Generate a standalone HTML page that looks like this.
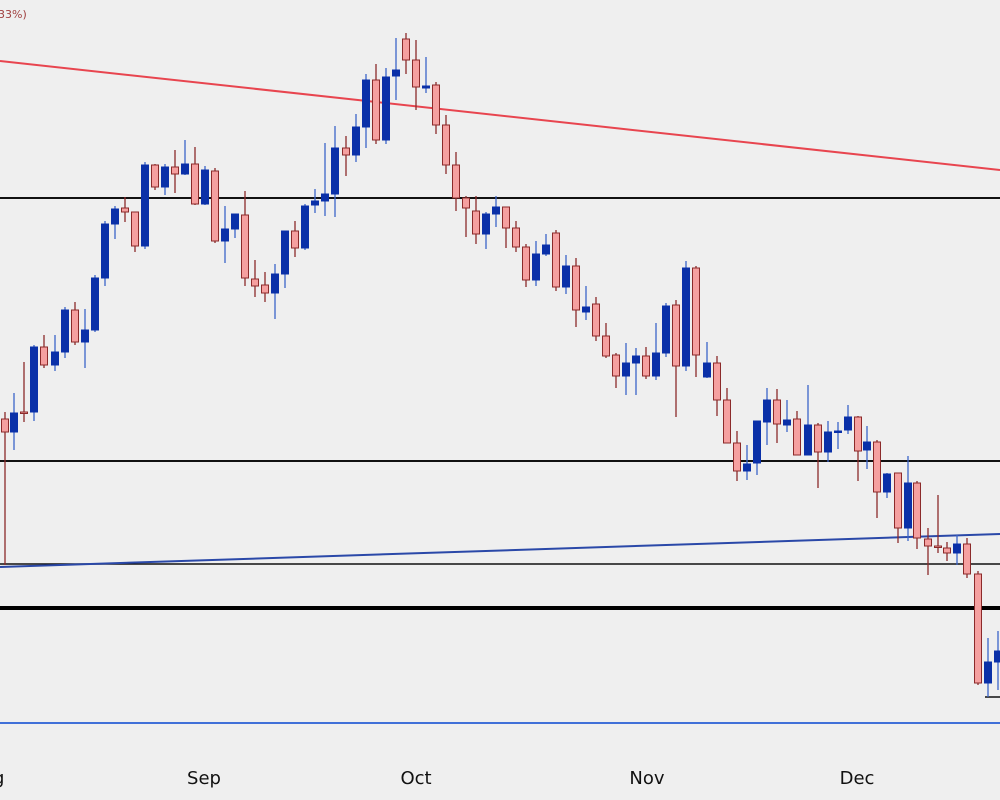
<!DOCTYPE html>
<html><head><meta charset="utf-8"><style>
html,body{margin:0;padding:0;background:#efefef;}
svg{display:block;}
text{font-family:"DejaVu Sans","Liberation Sans",sans-serif;}
</style></head><body>
<svg id="s" width="1000" height="800" viewBox="0 0 1000 800" xmlns="http://www.w3.org/2000/svg">
<rect width="1000" height="800" fill="#efefef"/>
<text x="-2" y="18" font-size="11" fill="#a04040">33%)</text>
<line x1="0" y1="61" x2="1000" y2="170" stroke="#e8454f" stroke-width="2"/>
<line x1="0" y1="198" x2="1000" y2="198" stroke="#111" stroke-width="2"/>
<line x1="0" y1="461" x2="1000" y2="461" stroke="#111" stroke-width="2"/>
<line x1="0" y1="564" x2="1000" y2="564" stroke="#111" stroke-width="1.5"/>
<line x1="0" y1="608" x2="1000" y2="608" stroke="#000" stroke-width="4"/>
<line x1="0" y1="567" x2="1000" y2="534" stroke="#2a48a8" stroke-width="2"/>
<line x1="0" y1="723" x2="1000" y2="723" stroke="#4070d8" stroke-width="2"/>
<line x1="985" y1="697" x2="1000" y2="697" stroke="#111" stroke-width="1.5"/>
<g id="c"></g>
<text x="204" y="784" font-size="18" fill="#111" text-anchor="middle">Sep</text>
<text x="416" y="784" font-size="18" fill="#111" text-anchor="middle">Oct</text>
<text x="647" y="784" font-size="18" fill="#111" text-anchor="middle">Nov</text>
<text x="857" y="784" font-size="18" fill="#111" text-anchor="middle">Dec</text>
<text x="-7" y="784" font-size="18" fill="#111">g</text>
</svg>
<script>
// x, type(b/p), bodyTop, bodyBot, high, low
var d=[
[5,'p',419,432,412,565],[14,'b',413,432,393,450],[24,'p',412,413,362,422],[34,'b',347,412,345,421],
[44,'p',347,365,335,368],[55,'b',352,365,335,371],[65,'b',310,352,307,358],[75,'p',310,342,302,345],
[85,'b',330,342,309,368],[95,'b',278,330,275,332],[105,'b',224,278,221,286],[115,'b',209,224,206,239],
[125,'p',208,212,197,222],[135,'p',212,246,212,252],[145,'b',165,246,162,249],[155,'p',165,187,164,190],
[165,'b',167,187,164,195],[175,'p',167,174,150,193],[185,'b',164,174,140,175],[195,'p',164,204,147,205],
[205,'b',170,204,166,205],[215,'p',171,241,168,243],[225,'b',229,241,206,263],[235,'b',214,229,214,238],
[245,'p',215,278,191,286],[255,'p',279,286,260,297],[265,'p',285,293,272,302],[275,'b',274,293,264,319],
[285,'b',231,274,231,288],[295,'p',231,248,221,257],[305,'b',206,248,204,250],[315,'b',201,205,189,213],
[325,'b',194,201,143,216],[335,'b',148,194,126,217],[346,'p',148,155,136,176],[356,'b',127,155,114,162],
[366,'b',80,127,74,148],[376,'p',80,140,64,144],[386,'b',77,140,68,144],[396,'b',70,76,38,100],
[406,'p',39,60,33,74],[416,'p',60,87,40,110],[426,'b',86,88,57,93],[436,'p',85,125,82,134],
[446,'p',125,165,115,174],[456,'p',165,198,152,211],[466,'p',198,208,196,237],[476,'p',211,234,196,244],
[486,'b',214,234,212,249],[496,'b',207,214,196,227],[506,'p',207,228,207,248],[516,'p',228,247,221,252],
[526,'p',247,280,244,287],[536,'b',254,280,241,286],[546,'b',245,254,234,256],[556,'p',233,287,230,291],
[566,'b',266,287,255,294],[576,'p',266,310,258,327],[586,'b',307,312,286,320],[596,'p',304,336,297,341],
[606,'p',336,356,323,358],[616,'p',355,376,353,388],[626,'b',363,376,343,395],[636,'b',356,363,348,395],
[646,'p',356,376,347,379],[656,'b',353,376,323,380],[666,'b',306,353,303,357],[676,'p',305,366,300,417],
[686,'b',268,366,261,371],[696,'p',268,355,266,377],[707,'b',363,377,342,378],[717,'p',363,400,356,416],
[727,'p',400,443,388,443],[737,'p',443,471,431,481],[747,'b',464,471,445,480],[757,'b',421,463,421,475],
[767,'b',400,422,388,445],[777,'p',400,424,389,443],[787,'b',420,425,400,432],[797,'p',419,455,411,455],
[808,'b',425,455,385,455],[818,'p',425,452,423,488],[828,'b',432,452,421,462],[838,'b',431,432,422,449],
[848,'b',417,430,405,434],[858,'p',417,451,416,481],[867,'b',442,450,426,469],[877,'p',442,492,440,518],
[887,'b',474,492,473,498],[898,'p',473,528,473,543],[908,'b',483,528,456,541],[917,'p',483,538,481,549],
[928,'p',539,546,528,575],[938,'p',546,547,495,553],[947,'p',548,553,542,561],[957,'b',544,553,535,565],
[967,'p',544,574,538,578],[978,'p',574,683,571,685],[988,'b',662,683,638,697],[998,'b',651,662,631,690]
];
var g=document.getElementById('c'),h='';
d.forEach(function(c){
 var x=c[0],t=c[2],b=Math.max(c[3],c[2]+1.5),w=c[1]=='b'?'#3a64c8':'#8b2a2a';
 h+='<line x1="'+x+'" y1="'+c[4]+'" x2="'+x+'" y2="'+c[5]+'" stroke="'+w+'" stroke-width="1.3"/>';
 if(c[1]=='b') h+='<rect x="'+(x-3.5)+'" y="'+t+'" width="7" height="'+(b-t)+'" fill="#0a30a8" stroke="#0a30a8" stroke-width="1"/>';
 else h+='<rect x="'+(x-3.5)+'" y="'+t+'" width="7" height="'+(b-t)+'" fill="#f5a0a0" stroke="#8b2a2a" stroke-width="1"/>';
});
g.innerHTML=h;
</script>
</body></html>
